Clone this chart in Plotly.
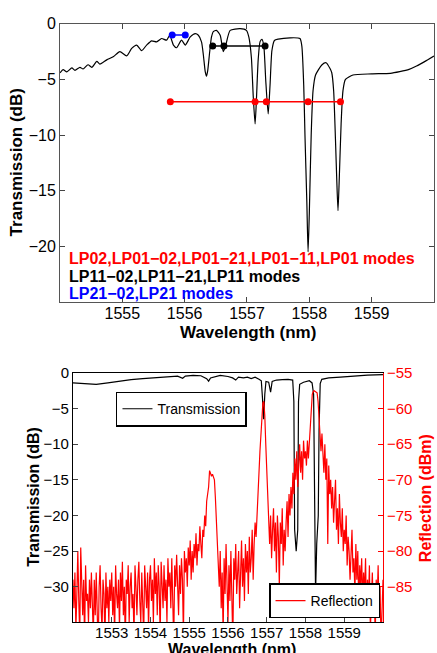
import plotly.graph_objects as go

FONT = "Liberation Sans, Arial, sans-serif"

# ---- top panel: simulated transmission of the grating ----
top_wl = [1554.00, 1554.05, 1554.11, 1554.19, 1554.24, 1554.32, 1554.37, 1554.45, 1554.51, 1554.59,
          1554.64, 1554.75, 1554.86, 1554.96, 1555.07, 1555.15, 1555.23, 1555.31, 1555.39, 1555.47,
          1555.55, 1555.63, 1555.71, 1555.76, 1555.82, 1555.87, 1555.95, 1556.01, 1556.09, 1556.17,
          1556.22, 1556.27, 1556.30, 1556.33, 1556.35, 1556.37, 1556.40, 1556.43, 1556.46, 1556.51,
          1556.57, 1556.62, 1556.66, 1556.73, 1556.89, 1556.99, 1557.03, 1557.07, 1557.10, 1557.13,
          1557.15, 1557.18, 1557.21, 1557.24, 1557.27, 1557.30, 1557.34, 1557.37, 1557.40, 1557.44,
          1557.50, 1557.69, 1557.85, 1557.88, 1557.91, 1557.93, 1557.96, 1557.98, 1558.00, 1558.03,
          1558.06, 1558.10, 1558.20, 1558.27, 1558.33, 1558.36, 1558.39, 1558.42, 1558.44, 1558.46,
          1558.48, 1558.51, 1558.54, 1558.58, 1558.70, 1559.00, 1559.30, 1559.45, 1559.60, 1559.72,
          1559.85, 1560.00]
top_tr = [-4.41, -4.12, -4.32, -3.97, -4.18, -3.91, -4.06, -3.68, -3.91, -3.38,
          -3.62, -3.24, -2.94, -2.50, -2.88, -2.21, -1.91, -2.41, -1.91, -1.53,
          -1.62, -1.32, -1.47, -1.03, -1.91, -2.15, -1.47, -1.91, -1.18, -0.88,
          -1.03, -1.62, -2.80, -4.30, -4.70, -4.20, -2.60, -1.20, -0.70, -0.59,
          -1.03, -2.50, -1.91, -0.59, -0.44, -0.59, -1.20, -3.00, -6.50, -9.00,
          -7.00, -3.20, -1.60, -1.40, -2.00, -5.00, -8.10, -5.50, -2.40, -1.50,
          -1.38, -1.26, -1.32, -2.00, -5.50, -10.0, -16.0, -20.5, -17.0, -10.0,
          -6.00, -4.60, -3.70, -3.50, -4.00, -4.40, -6.00, -10.5, -14.0, -16.8,
          -14.0, -9.00, -6.00, -5.00, -4.60, -4.50, -4.45, -4.30, -4.10, -3.80,
          -3.40, -2.90]

# mode positions marked on the top panel
lp01_wl = [1555.77, 1557.13, 1557.31, 1557.98, 1558.50]
lp01_db = [-7, -7, -7, -7, -7]
lp11_wl = [1556.45, 1556.63, 1557.29]
lp11_db = [-2, -2, -2]
lp21_wl = [1555.80, 1556.01]
lp21_db = [-1, -1]

# ---- bottom panel: measured transmission and reflection ----
bot_wl = [1552.00, 1552.30, 1552.60, 1552.90, 1553.20, 1553.50, 1553.80, 1554.00, 1554.20, 1554.50,
          1554.70, 1554.83, 1554.90, 1555.10, 1555.30, 1555.45, 1555.50, 1555.55, 1555.70, 1555.80,
          1556.00, 1556.12, 1556.20, 1556.27, 1556.40, 1556.50, 1556.60, 1556.70, 1556.80, 1556.86,
          1556.89, 1556.92, 1556.95, 1556.98, 1557.05, 1557.10, 1557.14, 1557.25, 1557.40, 1557.55,
          1557.67, 1557.70, 1557.72, 1557.76, 1557.80, 1557.82, 1557.85, 1557.95, 1558.10, 1558.17,
          1558.21, 1558.23, 1558.26, 1558.29, 1558.33, 1558.35, 1558.38, 1558.42, 1558.60, 1558.90,
          1559.30, 1559.60, 1560.00]
bot_tr = [-1.40, -1.55, -1.60, -1.40, -1.15, -0.95, -0.80, -0.70, -0.60, -0.50,
          -0.45, -0.75, -0.45, -0.35, -0.40, -0.80, -1.15, -0.70, -0.50, -0.35,
          -0.50, -0.70, -1.00, -0.60, -0.70, -0.60, -0.80, -0.60, -0.90, -1.10,
          -3.50, -6.50, -3.00, -1.20, -1.30, -2.70, -1.20, -1.00, -0.95, -0.90,
          -1.00, -4.00, -22.0, -25.0, -22.0, -4.00, -1.60, -1.30, -1.10, -1.40,
          -3.00, -20.0, -31.0, -24.0, -20.0, -8.00, -1.50, -0.90, -0.70, -0.60,
          -0.40, -0.30, -0.25]

# reflection spectrum, sampled every 0.025 nm from 1552 nm
refl_start = 1552.0
refl_step = 0.025
refl_dbm = [
    -84, -88, -83, -91, -86, -80, -87, -92, -79.5, -85, -89, -84, -93, -82, -87, -86, -90, -84, -88, -83,
    -86, -92, -84, -89, -83, -87, -94, -85, -82, -88, -91, -84, -86, -93, -83, -88, -85, -90, -84, -87,
    -83, -89, -85, -92, -82, -86, -88, -84, -91, -83, -87, -81.5, -89, -85, -93, -84, -86, -82, -90, -85,
    -83, -88, -86, -92, -82, -85, -89, -84, -81.5, -87, -90, -83, -86, -92, -82, -85, -88, -83, -91, -84,
    -82, -87, -84, -90, -81, -86, -83, -89, -82, -85, -92, -81.5, -84, -88, -82, -87, -84, -90, -81, -85,
    -83, -88, -81, -86, -93, -82, -85, -80.5, -84, -89, -82, -86, -81, -84, -92, -80, -83, -81, -85, -79.5,
    -82, -78.5, -84, -80, -83, -79, -81, -77.5, -82, -79, -80, -76.5, -79, -81, -77, -78, -75, -76.5, -73, -72,
    -71, -68.7, -69, -69.5, -69.2, -69.6, -70, -72.5, -76, -79, -82, -85, -80, -88, -83, -92, -81, -86, -79, -84,
    -90, -82, -87, -80, -85, -93, -81, -84, -79, -86, -83, -80, -88, -82, -78.5, -85, -81, -87, -79, -83,
    -80, -86, -78, -83, -81, -77, -84, -79, -76, -78, -74, -71, -69, -66, -63, -60.5, -59.2, -59, -61, -65,
    -69, -73, -76, -79, -75, -81, -77, -74, -80, -76, -83, -75, -78, -85, -76, -79, -74, -82, -77, -80,
    -76, -73, -78, -72, -75, -71, -74, -69, -72, -67, -70, -66, -71, -68, -65, -69, -66, -70, -64.5, -67,
    -66, -68, -64.5, -67, -65, -63, -60, -58, -57.6, -57.5, -57.6, -57.7, -57.8, -59, -61.5, -64, -66, -63.5, -67, -69,
    -65, -70, -67, -79, -68, -72, -70, -74, -71, -76, -73, -70, -77, -74, -79, -72, -76, -78, -74, -80,
    -77, -79, -75, -82, -78, -80, -84, -79, -77, -83, -81, -86, -79, -84, -80, -88, -82, -85, -81, -87,
    -83, -86, -81, -89, -84, -87, -82, -91, -85, -83, -88, -86, -92, -84, -87, -82, -89, -85, -93, -86,
    -84]

fig = go.Figure()

fig.add_trace(go.Scatter(x=top_wl, y=top_tr, mode="lines",
                         line=dict(color="black", width=1.2, shape="spline", smoothing=0.6),
                         xaxis="x", yaxis="y", showlegend=False))
fig.add_trace(go.Scatter(x=lp01_wl, y=lp01_db, mode="lines+markers", line=dict(color="#ff0000", width=1.5),
                         marker=dict(size=7, color="#ff0000"), xaxis="x", yaxis="y", showlegend=False))
fig.add_trace(go.Scatter(x=lp11_wl, y=lp11_db, mode="lines+markers", line=dict(color="black", width=1.5),
                         marker=dict(size=7, color="black"), xaxis="x", yaxis="y", showlegend=False))
fig.add_trace(go.Scatter(x=lp21_wl, y=lp21_db, mode="lines+markers", line=dict(color="#0000ff", width=1.5),
                         marker=dict(size=7, color="#0000ff"), xaxis="x", yaxis="y", showlegend=False))

fig.add_trace(go.Scatter(x=bot_wl, y=bot_tr, mode="lines", name="Transmission",
                         line=dict(color="black", width=1.2), xaxis="x2", yaxis="y2", legend="legend"))
fig.add_trace(go.Scatter(x0=refl_start, dx=refl_step, y=refl_dbm, mode="lines", name="Reflection",
                         line=dict(color="#ff0000", width=1.2), xaxis="x2", yaxis="y3", legend="legend2"))

axis_common = dict(showline=True, ticks="inside", ticklen=5, showgrid=False, zeroline=False,
                   tickfont=dict(family=FONT, size=16, color="black"))

fig.update_layout(
    width=437, height=653,
    margin=dict(l=0, r=0, t=0, b=0),
    paper_bgcolor="white", plot_bgcolor="white",
    font=dict(family=FONT, color="black"),
    xaxis=dict(axis_common, domain=[0.1373, 0.9931], anchor="y", range=[1554, 1560],
               tickvals=[1555, 1556, 1557, 1558, 1559], linecolor="#555", mirror="ticks",
               ticklabelstandoff=-3),
    yaxis=dict(axis_common, domain=[0.5452, 0.977], anchor="x", range=[-25, 0],
               tickvals=[-20, -15, -10, -5, 0], linecolor="#555", mirror="ticks"),
    xaxis2=dict(axis_common, domain=[0.167, 0.8764], anchor="y2", range=[1552, 1560],
                tickvals=[1553, 1554, 1555, 1556, 1557, 1558, 1559], linecolor="black", mirror=True,
                ticklabelstandoff=-3, tickfont=dict(family=FONT, size=15, color="black")),
    yaxis2=dict(axis_common, domain=[0.0475, 0.4349], anchor="x2", range=[-35, 0],
                tickvals=[-30, -25, -20, -15, -10, -5, 0], linecolor="black",
                tickfont=dict(family=FONT, size=15, color="black")),
    yaxis3=dict(axis_common, overlaying="y2", side="right", anchor="x2", range=[-90, -55],
                tickvals=[-85, -80, -75, -70, -65, -60, -55], linecolor="#ff0000", tickcolor="#ff0000",
                tickfont=dict(family=FONT, size=15, color="#ff0000")),
    legend=dict(x=0.2654, y=0.4058, xanchor="left", yanchor="top", bgcolor="white",
                bordercolor="black", borderwidth=1.5, font=dict(family=FONT, size=14),
                itemwidth=30, tracegroupgap=0),
    legend2=dict(x=0.8696, y=0.0536, xanchor="right", yanchor="bottom", bgcolor="white",
                 bordercolor="black", borderwidth=1.5, font=dict(family=FONT, size=14),
                 itemwidth=30, tracegroupgap=0),
    showlegend=True,
)

title_font = dict(family=FONT, size=17, color="black", weight="bold")
notes = [
    dict(text="Transmission (dB)", x=0.0378, y=0.761, textangle=-90, font=title_font),
    dict(text="Wavelength (nm)", x=0.5675, y=0.4975, font=title_font),
    dict(text="Transmission (dB)", x=0.078, y=0.2427, textangle=-90, font=dict(title_font, size=16)),
    dict(text="Reflection (dBm)", x=0.9725, y=0.2404, textangle=-90,
         font=dict(title_font, size=16, color="#ff0000")),
    dict(text="Wavelength (nm)", x=0.530, y=0.0061, font=dict(title_font, size=16)),
    dict(text="LP02,LP01\u221202,LP01\u221221,LP01\u221211,LP01 modes", x=0.1533, y=0.6126,
         xanchor="left", font=dict(title_font, size=16, color="#ff0000")),
    dict(text="LP11\u221202,LP11\u221221,LP11 modes", x=0.1533, y=0.585,
         xanchor="left", font=dict(title_font, size=16, color="black")),
    dict(text="LP21\u221202,LP21 modes", x=0.1533, y=0.559,
         xanchor="left", font=dict(title_font, size=16, color="#0000ff")),
]
for n in notes:
    fig.add_annotation(dict(xref="paper", yref="paper", showarrow=False, yanchor="middle",
                            xanchor=n.pop("xanchor", "center"), **n))

# the page's default body margin would push the fixed-size figure off the window
fig.write_html("out.html", config={"displayModeBar": False},
               post_script="document.body.style.margin='0';")
